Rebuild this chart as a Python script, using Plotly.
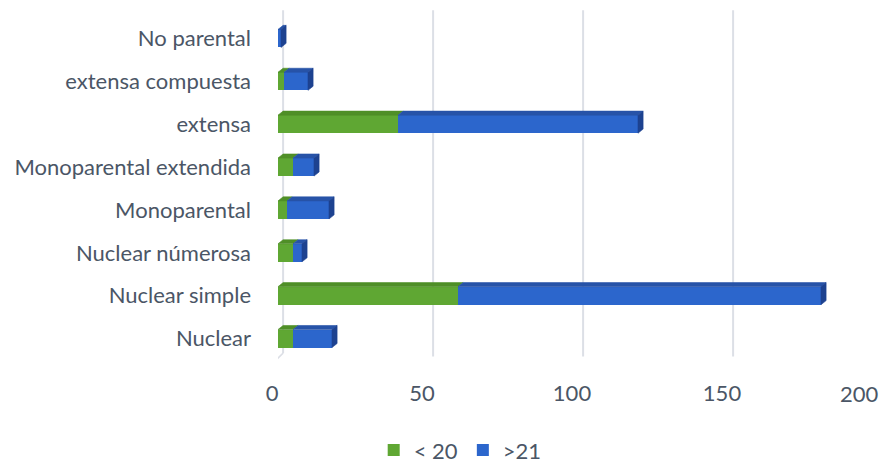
import plotly.graph_objects as go

# Household types (bottom to top) and counts per age group
categories = [
    "Nuclear",
    "Nuclear simple",
    "Nuclear númerosa",
    "Monoparental",
    "Monoparental extendida",
    "extensa",
    "extensa compuesta",
    "No parental",
]
under_20 = [5, 60, 5, 3, 5, 40, 2, 0]
over_21 = [13, 121, 3, 14, 7, 80, 8, 1]
series_names = ["< 20", ">21"]
x_ticks = [0, 50, 100, 150, 200]

GREEN = "#5fa733"
GREEN_TOP = "#4f8f27"
BLUE = "#2c66cc"
BLUE_TOP = "#2753a8"
BLUE_SIDE = "#1d4290"
TEXT = "#4b5666"
FONT = "Lato"
FS = 22

BAR_W = 0.42      # bar thickness in category units
DX = 1.7          # depth offset along x (data units)
DY = 0.095        # depth offset along y (category units)

ypos = list(range(len(categories)))

fig = go.Figure()

# Front faces of the stacked bars
fig.add_trace(go.Bar(
    y=ypos, x=under_20, orientation="h", name=series_names[0],
    marker=dict(color=GREEN, line=dict(width=0)), width=BAR_W,
))
fig.add_trace(go.Bar(
    y=ypos, x=over_21, orientation="h", name=series_names[1],
    base=under_20,
    marker=dict(color=BLUE, line=dict(width=0)), width=BAR_W,
))


def face(xs, ys, color):
    fig.add_trace(go.Scatter(
        x=xs, y=ys, mode="lines", fill="toself", fillcolor=color,
        line=dict(width=0.6, color=color), hoverinfo="skip", showlegend=False,
    ))


# Top and side faces give each bar its depth
for y, g, b in zip(ypos, under_20, over_21):
    top = y + BAR_W / 2
    bot = y - BAR_W / 2
    end = g + b
    if g > 0:
        face([0, g, g + DX, DX, 0], [top, top, top + DY, top + DY, top], GREEN_TOP)
    if b > 0:
        face([g, end, end + DX, g + DX, g], [top, top, top + DY, top + DY, top], BLUE_TOP)
    face([end, end + DX, end + DX, end, end],
         [bot, bot + DY, top + DY, top, bot], BLUE_SIDE)

# Back-wall gridlines and the left wall edge (behind the bars)
GRID = "#dcdfe6"
shapes = []
for v in x_ticks[1:]:
    shapes.append(dict(type="line", xref="x", yref="paper", layer="below",
                       x0=v + DX, x1=v + DX, y0=0.01, y1=1.02,
                       line=dict(color=GRID, width=2)))
shapes.append(dict(type="line", xref="x", yref="paper", layer="below",
                   x0=DX, x1=DX, y0=0.02, y1=1.02,
                   line=dict(color=GRID, width=2)))
shapes.append(dict(type="line", xref="x", yref="paper", layer="below",
                   x0=DX, x1=-1.8, y0=0.02, y1=-0.01,
                   line=dict(color=GRID, width=1.5)))
shapes.append(dict(type="line", xref="x", yref="paper", layer="below",
                   x0=-1.8, x1=-1.8, y0=-0.01, y1=1.0,
                   line=dict(color="#e6e8ee", width=1.5)))

fig.update_layout(
    width=885, height=468,
    margin=dict(l=278, r=7, t=17, b=108),
    barmode="stack",
    plot_bgcolor="white", paper_bgcolor="white",
    font=dict(family=FONT, size=FS, color=TEXT),
    shapes=shapes,
    showlegend=True,
    legend=dict(orientation="h", xref="container", yref="container",
                x=0.52, y=0.038, xanchor="center", yanchor="middle",
                font=dict(size=FS, color=TEXT),
                itemwidth=30, traceorder="normal"),
    xaxis=dict(range=[0, 200], tickvals=x_ticks,
               ticktext=[str(v) for v in x_ticks[:-1]] + [""],
               showgrid=False, zeroline=False, showline=False,
               ticks="", ticklabelstandoff=18, ticklabelshift=-6,
               tickfont=dict(size=FS, color=TEXT)),
    yaxis=dict(range=[-0.5, 7.5], tickvals=ypos, ticktext=categories,
               showgrid=False, zeroline=False, showline=False,
               ticks="", ticklabelstandoff=26,
               tickfont=dict(size=FS, color=TEXT)),
    annotations=[dict(x=200, y=0, xref="x", yref="paper", text=str(x_ticks[-1]),
                      xanchor="right", yanchor="top", yshift=-18, xshift=3,
                      showarrow=False, font=dict(size=FS, color=TEXT))],
)

fig.write_html("out.html")
